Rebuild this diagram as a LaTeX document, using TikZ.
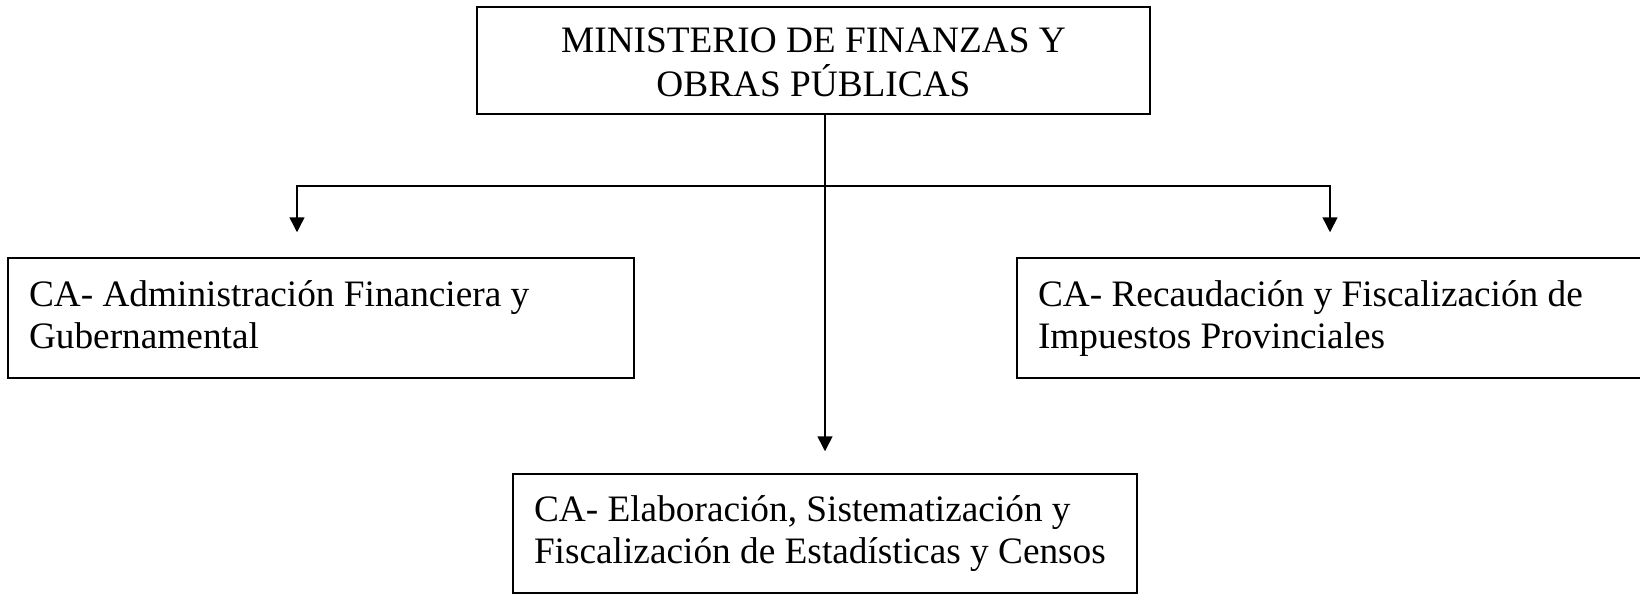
\documentclass[tikz,border=0pt]{standalone}
\usepackage{fontspec}
\setmainfont{Liberation Serif}
\usetikzlibrary{arrows.meta,positioning}

\begin{document}
\begin{tikzpicture}[x=1pt,y=-1pt,->,>={Triangle[width=15pt,length=15pt]},line width=1.5pt,
                    font=\fontsize{37.3}{42}\selectfont,
                    caja/.style={draw,rectangle,inner xsep=21pt,inner ysep=0pt,align=flush left,
                                 execute at end node={\vphantom{p}}}]
  \useasboundingbox (0,0) rectangle (1640,595);

  \node[draw,rectangle,inner sep=0pt,align=center,text height=72.4pt,text depth=0pt,minimum width=673pt,minimum height=107pt] (min) at (813.5,60.5) {MINISTERIO DE FINANZAS Y\\[2pt]OBRAS PÚBLICAS};
  \node[caja,minimum width=626pt,minimum height=120pt,text width=584pt] (adm) at (321,318) {CA- Administración Financiera y\\Gubernamental};
  \node[caja,minimum width=643pt,minimum height=120pt,text width=601pt] (rec) at (1338.5,318) {CA- Recaudación y Fiscalización de\\Impuestos Provinciales};
  \node[caja,minimum width=624pt,minimum height=119pt,text width=582pt] (est) at (825,533.5) {CA- Elaboración, Sistematización y\\Fiscalización de Estadísticas y Censos};

  \coordinate (split) at (825,186);
  \coordinate (izq) at (297,186);
  \coordinate (der) at (1330,186);

  \draw[shorten >=22pt] (split |- min.south) -- (split |- est.north);
  \draw[shorten >=25pt] (split) -| (izq |- adm.north);
  \draw[shorten >=25pt] (split) -| (der |- rec.north);
\end{tikzpicture}
\end{document}
